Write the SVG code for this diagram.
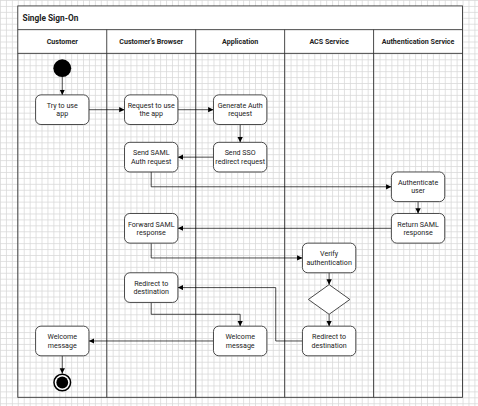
<svg xmlns="http://www.w3.org/2000/svg" width="478" height="406" viewBox="0 0 478 406">
<defs>
<pattern id="grid" width="10" height="10" patternUnits="userSpaceOnUse"><rect x="0" y="0" width="10" height="1.2" fill="#d6d6d6"/><rect x="0" y="0" width="1.2" height="10" fill="#d6d6d6"/></pattern>
<marker id="arr" markerWidth="10" markerHeight="10" refX="9" refY="4.5" orient="auto" markerUnits="userSpaceOnUse"><path d="M0,0 L9,4.5 L0,9 z" fill="#000"/></marker>
</defs>
<style>
.node rect, .node path {fill:#fff; stroke:#333; stroke-width:1.5}
text {font-family: Roboto, "Liberation Sans", sans-serif; font-size:12px; fill:#222; text-anchor:middle; dominant-baseline:central}
.hdr {font-weight:bold}
.title {font-weight:bold; font-size:14px; text-anchor:start}
.lane {fill:none; stroke:#333; stroke-width:1.5}
.edge {fill:none; stroke:#000; stroke-width:1.2; marker-end:url(#arr)}
</style>
<rect width="478" height="406" fill="#fff"/>
<g transform="scale(0.593)">
<rect width="806" height="685" fill="url(#grid)"/>
<g id="pool">
<rect x="30" y="10" width="750" height="80" fill="#fff"/>
<rect class="lane" x="30" y="10" width="750" height="660"/>
<line class="lane" x1="30" y1="50" x2="780" y2="50"/>
<line class="lane" x1="30" y1="90" x2="780" y2="90"/>
<line class="lane" x1="180" y1="50" x2="180" y2="670"/>
<line class="lane" x1="330" y1="50" x2="330" y2="670"/>
<line class="lane" x1="480" y1="50" x2="480" y2="670"/>
<line class="lane" x1="630" y1="50" x2="630" y2="670"/>
<text class="title" x="38" y="30">Single Sign-On</text>
<text class="hdr" x="105" y="70">Customer</text>
<text class="hdr" x="255" y="70">Customer's Browser</text>
<text class="hdr" x="405" y="70">Application</text>
<text class="hdr" x="555" y="70">ACS Service</text>
<text class="hdr" x="705" y="70">Authentication Service</text>
</g>
<g id="connectors">
<path class="edge" d="M105 130 V160"/>
<path class="edge" d="M150 185 H210"/>
<path class="edge" d="M300 185 H360"/>
<path class="edge" d="M405 210 V240"/>
<path class="edge" d="M360 265 H300"/>
<path class="edge" d="M255 290 V315 H660"/>
<path class="edge" d="M705 340 V360"/>
<path class="edge" d="M660 385 H300"/>
<path class="edge" d="M255 410 V435 H510"/>
<path class="edge" d="M555 460 V480"/>
<path class="edge" d="M555 530 V550"/>
<path class="edge" d="M510 575 H465 V485 H300"/>
<path class="edge" d="M255 510 V530 H405 V550"/>
<path class="edge" d="M360 575 H150"/>
<path class="edge" d="M105 600 V630"/>
</g>
<g id="start"><circle cx="105" cy="115" r="15" fill="#000"/></g>
<g id="try" class="node"><rect x="60" y="160" width="90" height="50" rx="9"/><text x="105" y="178">Try to use</text><text x="105" y="192">app</text></g>
<g id="request" class="node"><rect x="210" y="160" width="90" height="50" rx="9"/><text x="255" y="178">Request to use</text><text x="255" y="192">the app</text></g>
<g id="generate" class="node"><rect x="360" y="160" width="90" height="50" rx="9"/><text x="405" y="178">Generate Auth</text><text x="405" y="192">request</text></g>
<g id="sendsaml" class="node"><rect x="210" y="240" width="90" height="50" rx="9"/><text x="255" y="258">Send SAML</text><text x="255" y="272">Auth request</text></g>
<g id="sendsso" class="node"><rect x="360" y="240" width="90" height="50" rx="9"/><text x="405" y="258">Send SSO</text><text x="405" y="272">redirect request</text></g>
<g id="authenticate" class="node"><rect x="660" y="290" width="90" height="50" rx="9"/><text x="705" y="308">Authenticate</text><text x="705" y="322">user</text></g>
<g id="returnsaml" class="node"><rect x="660" y="360" width="90" height="50" rx="9"/><text x="705" y="378">Return SAML</text><text x="705" y="392">response</text></g>
<g id="forward" class="node"><rect x="210" y="360" width="90" height="50" rx="9"/><text x="255" y="378">Forward SAML</text><text x="255" y="392">response</text></g>
<g id="verify" class="node"><rect x="510" y="410" width="90" height="50" rx="9"/><text x="555" y="428">Verify</text><text x="555" y="442">authentication</text></g>
<g id="decision" class="node"><path d="M555 480 L590 505 L555 530 L520 505 Z"/></g>
<g id="redirectacs" class="node"><rect x="510" y="550" width="90" height="50" rx="9"/><text x="555" y="568">Redirect to</text><text x="555" y="582">destination</text></g>
<g id="redirectbrowser" class="node"><rect x="210" y="460" width="90" height="50" rx="9"/><text x="255" y="478">Redirect to</text><text x="255" y="492">destination</text></g>
<g id="welcomeapp" class="node"><rect x="360" y="550" width="90" height="50" rx="9"/><text x="405" y="568">Welcome</text><text x="405" y="582">message</text></g>
<g id="welcomecust" class="node"><rect x="60" y="550" width="90" height="50" rx="9"/><text x="105" y="568">Welcome</text><text x="105" y="582">message</text></g>
<g id="end"><circle cx="105" cy="645" r="14" fill="#fff" stroke="#000" stroke-width="2.5"/><circle cx="105" cy="645" r="10" fill="#000"/></g>
</g>
</svg>
